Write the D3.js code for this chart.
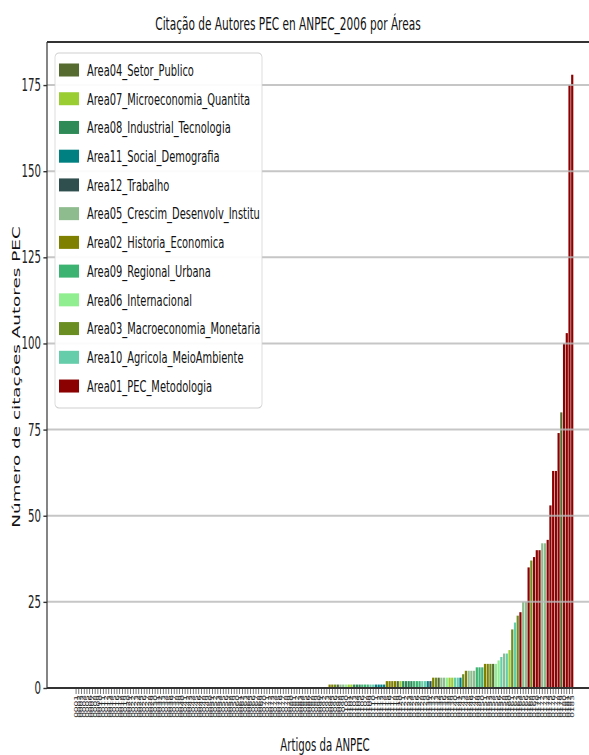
<!DOCTYPE html>
<html>
<head>
<meta charset="utf-8">
<script src="https://cdn.jsdelivr.net/npm/d3@7"></script>
<style>
  html, body { margin: 0; padding: 0; background: #fff; }
  svg { display: block; }
</style>
</head>
<body>
<svg id="chart"></svg>
<script>
// ---- data -------------------------------------------------------------
const chartTitle = "Citação de Autores PEC en ANPEC_2006 por Áreas";
const xTitle = "Artigos da ANPEC";
const yTitle = "Número de citações Autores PEC";

// legend order
const areaCodes = ["04", "07", "08", "11", "12", "05", "02", "09", "06", "03", "10", "01"];
const areaNames = [
  "Area04_Setor_Publico",
  "Area07_Microeconomia_Quantita",
  "Area08_Industrial_Tecnologia",
  "Area11_Social_Demografia",
  "Area12_Trabalho",
  "Area05_Crescim_Desenvolv_Institu",
  "Area02_Historia_Economica",
  "Area09_Regional_Urbana",
  "Area06_Internacional",
  "Area03_Macroeconomia_Monetaria",
  "Area10_Agricola_MeioAmbiente",
  "Area01_PEC_Metodologia"
];
const areaColors = [
  "#556B2F", "#9ACD32", "#2E8B57", "#008080", "#2F4F4F", "#8FBC8F",
  "#808000", "#3CB371", "#90EE90", "#6B8E23", "#66CDAA", "#8B0000"
];

// citations per article, sorted ascending
const citations = [
  0,0,0,0,0,0,0,0,0,0,0,0,0,0,0,0,0,0,0,0,0,0,0,0,0,0,0,0,0,0,0,
  0,0,0,0,0,0,0,0,0,0,0,0,0,0,0,0,0,0,0,0,0,0,0,0,0,0,0,0,0,0,0,
  0,0,0,0,0,0,0,0,0,0,0,0,0,0,0,0,0,0,0,0,0,0,0,0,0,0,0,0,0,0,0,
  1,1,1,1,1,1,1,1,1,1,1,1,1,1,1,1,1,1,1,1,1,
  2,2,2,2,2,2,2,2,2,2,2,2,2,2,2,2,2,
  3,3,3,3,3,3,3,3,3,3,3,
  4, 5,5,5,5, 6,6,6, 7,7,7,7,7, 8, 9, 10,10, 11,
  17, 19, 21, 22, 25,25, 35, 37, 38, 40,40, 42,42, 43, 53, 63,63,
  74, 80, 100, 103, 175, 178
];

// thematic area of each article (same order as citations)
const articleAreas = [
  "02","02","02","02","02","02","02","02",
  "03","03","03","03","03","03","03","03","03","03",
  "04","04","04","04","04","04",
  "05","05","05","05","05","05","05","05","05",
  "06","06","06","06","06","06","06","06",
  "07","07","07","07","07","07","07","07","07","07",
  "08","08","08","08","08","08","08","08",
  "09","09","09","09","09","09","09","09","09","09",
  "10","10","10","10","10","10","10","10",
  "11","11","11","11","11","11","11","11",
  "12","12","12","12","12","12","12","12",
  // 1
  "02","02","03","04","05","05","06","07","07","08","08","08","09","09","09","10","10","11","11","11","11",
  // 2
  "02","02","02","02","04","07","08","08","08","08","09","09","09","10","10","11","12",
  // 3
  "02","03","04","05","05","06","07","07","10","10","11",
  // 4 .. 11
  "03", "02","05","05","05", "09","09","09", "02","02","03","04","06", "06", "10", "05","10", "07",
  // 17 .. 63
  "03", "10", "03", "01", "05","05", "01", "03", "01", "01","01", "05","05", "01", "01", "01","01",
  // 74 .. 178
  "01", "04", "01", "01", "01", "01"
];

const articleLabels = citations.map((_, i) => String(i + 1).padStart(4, "0"));
const yTicks = [0, 25, 50, 75, 100, 125, 150, 175];

// ---- layout (drawn in a wide frame, squeezed horizontally) -------------
const W = 589, H = 755, SX = 0.6, VW = W / SX;
const frame = { left: 47 / SX, right: 598 / SX, top: 42, bottom: 688 };
const barsLeft = 74.7 / SX, barsRight = 573.6 / SX;
const FONT = "DejaVu Sans, Verdana, sans-serif";
const FS = 16.7;

const svg = d3.select("#chart")
  .attr("width", W).attr("height", H)
  .attr("viewBox", `0 0 ${VW} ${H}`)
  .attr("preserveAspectRatio", "none")
  .style("font-family", FONT);

svg.append("rect").attr("width", VW).attr("height", H).attr("fill", "#fff");

const x = d3.scaleBand()
  .domain(citations.map((_, i) => i))
  .range([barsLeft, barsRight])
  .paddingInner(0.2)
  .paddingOuter(0.1);

const y = d3.scaleLinear().domain([0, 187.5]).range([frame.bottom, frame.top]);

const color = d3.scaleOrdinal(areaCodes, areaColors);

// bars
svg.append("g").selectAll("rect")
  .data(citations)
  .join("rect")
  .attr("x", (d, i) => x(i))
  .attr("width", x.bandwidth())
  .attr("y", d => y(d))
  .attr("height", d => y(0) - y(d))
  .attr("fill", (d, i) => color(articleAreas[i]));

// horizontal grid on top of bars
svg.append("g").selectAll("line")
  .data(yTicks.filter(t => t > 0))
  .join("line")
  .attr("x1", frame.left).attr("x2", frame.right)
  .attr("y1", d => y(d)).attr("y2", d => y(d))
  .attr("stroke", "#b8b8b8")
  .attr("stroke-opacity", 0.8)
  .attr("stroke-width", 2);

// y axis
const yAxis = svg.append("g")
  .attr("transform", `translate(${frame.left},0)`)
  .call(d3.axisLeft(y).tickValues(yTicks).tickSize(6).tickPadding(4).tickFormat(d3.format("d")));
yAxis.select(".domain").remove();
yAxis.selectAll(".tick line").attr("stroke", "#333").attr("stroke-width", 1.4);
yAxis.selectAll(".tick text")
  .attr("fill", "#222")
  .style("font-size", "17px")
  .style("font-family", FONT);

// x axis with rotated article labels
const xAxis = svg.append("g")
  .attr("transform", `translate(0,${frame.bottom})`)
  .call(d3.axisBottom(x).tickFormat(i => articleLabels[i]).tickSize(6).tickPadding(4));
xAxis.select(".domain").remove();
xAxis.selectAll(".tick line").attr("stroke", "#444").attr("stroke-width", 1.2);
xAxis.selectAll(".tick text")
  .attr("fill", "#2a2a2a")
  .style("font-size", "9px")
  .style("font-family", FONT)
  .attr("text-anchor", "end")
  .attr("dy", "0.35em")
  .attr("transform", "translate(0,7) rotate(-90)")
  .attr("x", 0).attr("y", 0);

// frame
const spine = svg.append("g").attr("stroke", "#333").attr("fill", "none");
spine.append("line").attr("x1", frame.left).attr("x2", frame.right)
  .attr("y1", frame.top).attr("y2", frame.top).attr("stroke-width", 2);
spine.append("line").attr("x1", frame.left).attr("x2", frame.right)
  .attr("y1", frame.bottom).attr("y2", frame.bottom).attr("stroke-width", 2);
spine.append("line").attr("x1", frame.left).attr("x2", frame.left)
  .attr("y1", frame.top).attr("y2", frame.bottom).attr("stroke-width", 2);

// titles
svg.append("text")
  .attr("x", 288 / SX).attr("y", 30)
  .attr("text-anchor", "middle")
  .style("font-size", "17.6px")
  .attr("fill", "#111")
  .text(chartTitle);

svg.append("text")
  .attr("x", 325 / SX).attr("y", 751)
  .attr("text-anchor", "middle")
  .style("font-size", "17px")
  .attr("fill", "#111")
  .text(xTitle);

svg.append("text")
  .attr("transform", `translate(${16 / SX},377) rotate(-90)`)
  .attr("text-anchor", "middle")
  .attr("dy", "0.35em")
  .style("font-size", "18.4px")
  .attr("fill", "#111")
  .text(yTitle);

// legend
const leg = { x: 55 / SX, y: 53, w: (262 - 55) / SX, h: 355, row0: 70, pitch: 28.73 };
const legend = svg.append("g");
legend.append("rect")
  .attr("x", leg.x).attr("y", leg.y)
  .attr("width", leg.w).attr("height", leg.h)
  .attr("rx", 4 / SX).attr("ry", 4)
  .attr("fill", "#fff").attr("fill-opacity", 0.92)
  .attr("stroke", "#d0d0d0").attr("stroke-width", 1.2);

const items = legend.selectAll("g.item")
  .data(areaCodes)
  .join("g")
  .attr("class", "item")
  .attr("transform", (d, i) => `translate(0,${leg.row0 + i * leg.pitch})`);
items.append("rect")
  .attr("x", 59 / SX).attr("y", -6.5)
  .attr("width", 2 * FS).attr("height", 13)
  .attr("fill", d => color(d));
items.append("text")
  .attr("x", 87 / SX).attr("y", 0)
  .attr("dy", "0.35em")
  .style("font-size", "16.5px")
  .attr("fill", "#111")
  .text((d, i) => areaNames[i]);
</script>
</body>
</html>
